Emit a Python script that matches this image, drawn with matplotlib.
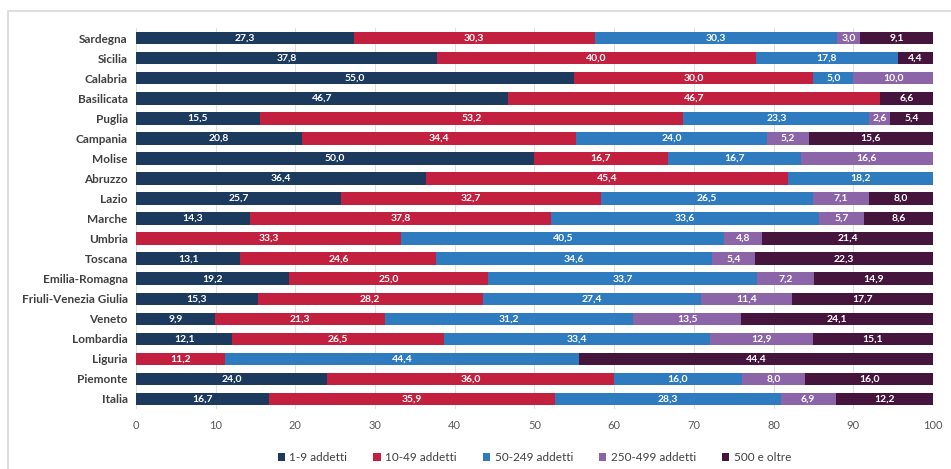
import matplotlib.pyplot as plt
import numpy as np
from matplotlib.patches import Rectangle

plt.rcParams['font.family'] = ['Lato', 'DejaVu Sans']

regioni = ['Sardegna', 'Sicilia', 'Calabria', 'Basilicata', 'Puglia', 'Campania',
           'Molise', 'Abruzzo', 'Lazio', 'Marche', 'Umbria', 'Toscana',
           'Emilia-Romagna', 'Friuli-Venezia Giulia', 'Veneto', 'Lombardia',
           'Liguria', 'Piemonte', 'Italia']
classi = ['1-9 addetti', '10-49 addetti', '50-249 addetti', '250-499 addetti', '500 e oltre']

a1_9 = [27.3, 37.8, 55.0, 46.7, 15.5, 20.8, 50.0, 36.4, 25.7, 14.3, 0, 13.1, 19.2, 15.3, 9.9, 12.1, 0, 24.0, 16.7]
a10_49 = [30.3, 40.0, 30.0, 46.7, 53.2, 34.4, 16.7, 45.4, 32.7, 37.8, 33.3, 24.6, 25.0, 28.2, 21.3, 26.5, 11.2, 36.0, 35.9]
a50_249 = [30.3, 17.8, 5.0, 0, 23.3, 24.0, 16.7, 18.2, 26.5, 33.6, 40.5, 34.6, 33.7, 27.4, 31.2, 33.4, 44.4, 16.0, 28.3]
a250_499 = [3.0, 0, 10.0, 0, 2.6, 5.2, 16.6, 0, 7.1, 5.7, 4.8, 5.4, 7.2, 11.4, 13.5, 12.9, 0, 8.0, 6.9]
a500 = [9.1, 4.4, 0, 6.6, 5.4, 15.6, 0, 0, 8.0, 8.6, 21.4, 22.3, 14.9, 17.7, 24.1, 15.1, 44.4, 16.0, 12.2]

serie = [a1_9, a10_49, a50_249, a250_499, a500]
colori = ['#1b3a5e', '#c3203f', '#2e7bbf', '#8b65a8', '#45153d']

fig = plt.figure(figsize=(9.51, 4.69), dpi=100)
ax = fig.add_axes([0.143, 0.128, 0.838, 0.812])

# cornice grigia
fig.patches.append(Rectangle((8 / 951, -0.1), 1.1, 1 - 11 / 469 + 0.1, transform=fig.transFigure,
                             fill=False, edgecolor='#d9d9d9', linewidth=1.2))

y = np.arange(len(regioni))
left = np.zeros(len(regioni))
for vals, col, nome in zip(serie, colori, classi):
    vals = np.array(vals)
    ax.barh(y, vals, left=left, height=0.62, color=col, label=nome, zorder=2)
    for yi, l, v in zip(y, left, vals):
        if v > 0:
            ax.text(l + v / 2, yi, f'{v:.1f}'.replace('.', ','), ha='center', va='center',
                    color='white', fontsize=7.5, fontweight='bold', zorder=3)
    left += vals

ax.set_xlim(0, 100)
ax.set_ylim(len(regioni) - 0.5, -0.5)
ax.set_xticks(np.arange(0, 101, 10))
ax.set_yticks(y)
ax.set_yticklabels(regioni, fontsize=8.5, fontweight='bold', color='#404040')
ax.tick_params(axis='x', length=0, labelsize=8, labelcolor='#595959', pad=8)
ax.tick_params(axis='y', length=0, pad=6)
ax.grid(axis='x', color='#e0e0e0', linewidth=0.8, zorder=0)
ax.set_axisbelow(True)
for s in ax.spines.values():
    s.set_visible(False)

leg = ax.legend(loc='upper center', bbox_to_anchor=(0.5, -0.085), ncol=5, frameon=False,
                fontsize=8.5, handlelength=0.6, handleheight=0.6, handletextpad=0.4,
                columnspacing=2.2, labelcolor='#404040')

fig.savefig('out.png', dpi=100)
